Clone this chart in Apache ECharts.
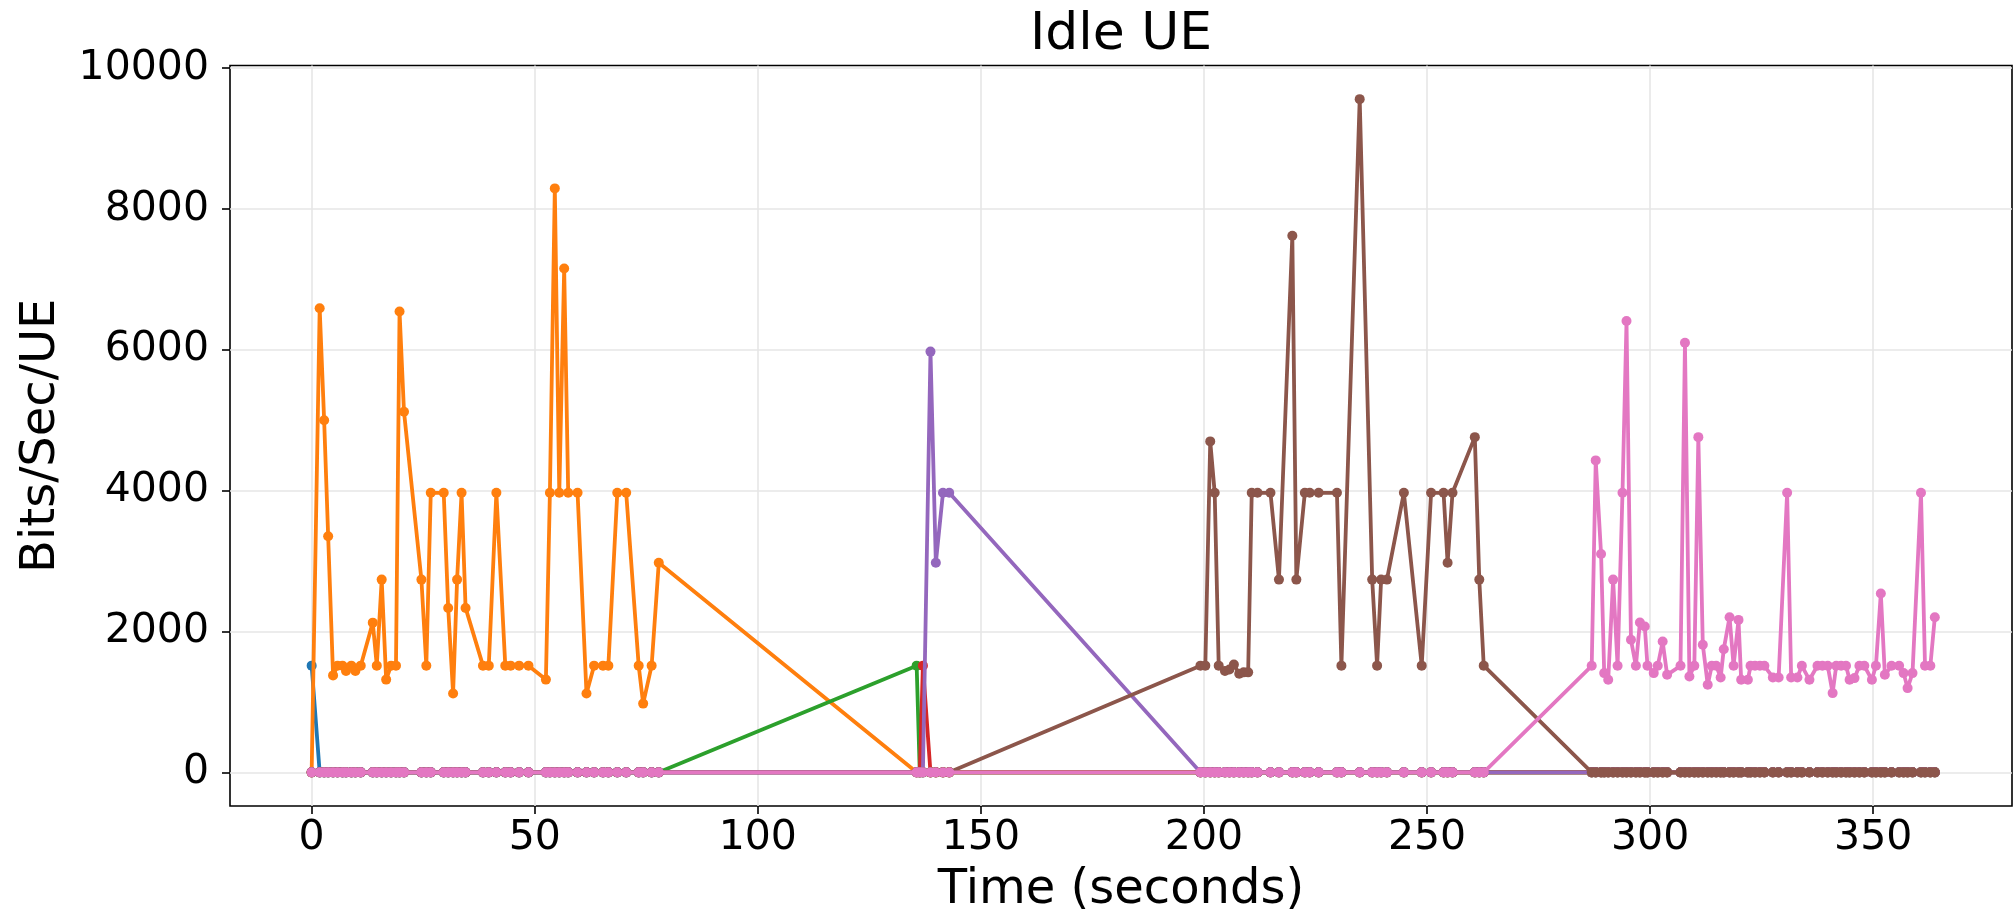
<!DOCTYPE html>
<html>
<head>
<meta charset="utf-8">
<script src="https://cdn.jsdelivr.net/npm/echarts@6/dist/echarts.min.js"></script>
<style>
html,body{margin:0;padding:0;background:#ffffff;}
#c{width:2015px;height:921px;}
</style>
</head>
<body>
<div id="c"></div>
<script>
// ---------------- DATA ----------------
const TITLE = 'Idle UE';
const X_NAME = 'Time (seconds)';
const Y_NAME = 'Bits/Sec/UE';
const X_TICKS = [0, 50, 100, 150, 200, 250, 300, 350];
const Y_TICKS = [0, 2000, 4000, 6000, 8000, 10000];
const SERIES_NAMES = ['UE 1', 'UE 2', 'UE 3', 'UE 4', 'UE 5', 'UE 6', 'UE 7'];

// sample times (seconds), four observation windows
const T1 = [0.0, 1.8, 2.8, 3.7, 4.8, 5.8, 6.9, 7.7, 8.9, 9.8,
            11.0, 13.7, 14.6, 15.7, 16.7, 17.8, 18.9, 19.7, 20.7, 24.6,
            25.7, 26.7, 29.6, 30.6, 31.7, 32.6, 33.6, 34.5, 38.4, 39.7,
            41.4, 43.4, 44.6, 46.5, 48.6, 52.5, 53.4, 54.5, 55.5, 56.6,
            57.5, 59.6, 61.6, 63.3, 65.3, 66.5, 68.5, 70.5, 73.3, 74.3,
            76.2, 77.8];
const T2 = [135.6, 136.3, 137.0, 138.7, 139.9, 141.5, 142.9];
const T3 = [199.2, 200.3, 201.4, 202.4, 203.3, 204.7, 205.7, 206.7, 207.9, 208.9,
            209.9, 210.7, 212.0, 214.9, 216.8, 219.8, 220.7, 222.6, 223.7, 225.7,
            229.8, 230.8, 234.9, 237.7, 238.8, 239.7, 241.0, 244.8, 248.8, 250.9,
            253.7, 254.6, 255.7, 260.7, 261.7, 262.7];
const T4 = [286.9, 287.8, 289.0, 289.7, 290.6, 291.7, 292.7, 293.8, 294.7, 295.7,
            296.8, 297.7, 298.8, 299.4, 300.8, 301.7, 302.8, 303.8, 306.8, 307.8,
            308.8, 309.9, 310.8, 311.8, 312.9, 313.8, 314.8, 315.8, 316.5, 317.8,
            318.7, 319.8, 320.4, 321.9, 322.5, 323.5, 324.6, 325.6, 327.5, 328.8,
            330.7, 331.6, 333.0, 334.0, 335.7, 337.5, 338.6, 339.8, 340.9, 341.7,
            342.8, 343.9, 344.7, 345.8, 346.9, 348.0, 349.7, 350.6, 351.7, 352.6,
            354.1, 355.8, 356.8, 357.7, 358.8, 360.7, 361.6, 362.8, 363.8];

// idle (zero) values for each window
const ZERO1 = [0,0,0,0,0,0,0,0,0,0, 0,0,0,0,0,0,0,0,0,0, 0,0,0,0,0,0,0,0,0,0,
               0,0,0,0,0,0,0,0,0,0, 0,0,0,0,0,0,0,0,0,0, 0,0];
const ZERO2 = [0,0,0,0,0,0,0];
const ZERO3 = [0,0,0,0,0,0,0,0,0,0, 0,0,0,0,0,0,0,0,0,0, 0,0,0,0,0,0,0,0,0,0,
               0,0,0,0,0,0];
const ZERO4 = [0,0,0,0,0,0,0,0,0,0, 0,0,0,0,0,0,0,0,0,0, 0,0,0,0,0,0,0,0,0,0,
               0,0,0,0,0,0,0,0,0,0, 0,0,0,0,0,0,0,0,0,0, 0,0,0,0,0,0,0,0,0,0,
               0,0,0,0,0,0,0,0,0];

// active values
const BLUE1 = [1515, 0,0,0,0,0,0,0,0,0, 0,0,0,0,0,0,0,0,0,0, 0,0,0,0,0,0,0,0,0,0,
               0,0,0,0,0,0,0,0,0,0, 0,0,0,0,0,0,0,0,0,0, 0,0];
const ORANGE1 = [0, 6590, 5000, 3353, 1377, 1515, 1515, 1440, 1515, 1440,
                 1515, 2126, 1515, 2737, 1317, 1515, 1515, 6545, 5120, 2737,
                 1515, 3970, 3970, 2335, 1120, 2737, 3970, 2335, 1515, 1515,
                 3970, 1515, 1515, 1515, 1515, 1317, 3970, 8293, 3970, 7156,
                 3970, 3970, 1120, 1515, 1515, 1515, 3970, 3970, 1515, 976,
                 1515, 2976];
const GREEN2 = [1515, 0, 0, 0, 0, 0, 0];
const RED2 = [0, 0, 1515, 0, 0, 0, 0];
const PURPLE2 = [0, 0, 0, 5975, 2976, 3970, 3970];
const BROWN3 = [1515, 1515, 4700, 3970, 1515, 1440, 1460, 1530, 1400, 1420,
                1420, 3970, 3970, 3970, 2737, 7620, 2737, 3970, 3970, 3970,
                3970, 1515, 9560, 2737, 1515, 2737, 2737, 3970, 1515, 3970,
                3970, 2976, 3970, 4760, 2737, 1515];
const PINK4 = [1513, 4430, 3100, 1409, 1314, 2737, 1513, 3970, 6410, 1882,
               1513, 2128, 2071, 1513, 1409, 1513, 1858, 1385, 1513, 6100,
               1362, 1513, 4760, 1811, 1243, 1513, 1513, 1348, 1749, 2203,
               1513, 2165, 1314, 1314, 1513, 1513, 1513, 1513, 1348, 1348,
               3970, 1348, 1348, 1513, 1314, 1513, 1513, 1513, 1125, 1513,
               1513, 1513, 1314, 1338, 1513, 1513, 1314, 1513, 2540, 1385,
               1513, 1513, 1409, 1196, 1409, 3970, 1513, 1513, 2203];

const COLORS = ['#1f77b4', '#ff7f0e', '#2ca02c', '#d62728', '#9467bd', '#8c564b', '#e377c2'];

// ---------------- BUILD ----------------
const TIMES = [T1, T2, T3, T4];
const SERIES_SEGMENTS = [
  [BLUE1, ZERO2, ZERO3, ZERO4],
  [ORANGE1, ZERO2, ZERO3, ZERO4],
  [ZERO1, GREEN2, ZERO3, ZERO4],
  [ZERO1, RED2, ZERO3, ZERO4],
  [ZERO1, PURPLE2, ZERO3, ZERO4],
  [ZERO1, ZERO2, BROWN3, ZERO4],
  [ZERO1, ZERO2, ZERO3, PINK4]
];

function build(segs) {
  const out = [];
  segs.forEach(function (vals, k) {
    const ts = TIMES[k];
    if (vals.length !== ts.length) {
      throw new Error('length mismatch in segment ' + k + ': ' + vals.length + ' vs ' + ts.length);
    }
    ts.forEach(function (t, i) { out.push([t, vals[i]]); });
  });
  return out;
}

const FONT = 'DejaVu Sans';
const series = SERIES_SEGMENTS.map(function (segs, i) {
  return {
    name: SERIES_NAMES[i],
    type: 'line',
    data: build(segs),
    symbol: 'circle',
    symbolSize: 10,
    showSymbol: true,
    showAllSymbol: true,
    lineStyle: { width: 3.8, color: COLORS[i] },
    itemStyle: { color: COLORS[i] },
    emphasis: { disabled: true },
    z: 2 + i
  };
});

const chart = echarts.init(document.getElementById('c'), null, { renderer: 'canvas' });
chart.setOption({
  animation: false,
  backgroundColor: '#ffffff',
  title: {
    text: TITLE,
    left: 1121,
    top: 9,
    padding: 0,
    textAlign: 'center',
    textStyle: { fontFamily: FONT, fontSize: 52, fontWeight: 'normal', color: '#000' }
  },
  grid: {
    left: 230, right: 3, top: 65.5, bottom: 115,
    show: true, borderColor: '#000', borderWidth: 1.6, backgroundColor: 'transparent',
    containLabel: false
  },
  xAxis: {
    type: 'value',
    min: -18.3, max: 381.1,
    name: X_NAME,
    nameLocation: 'middle',
    nameGap: 61,
    nameTextStyle: { fontFamily: FONT, fontSize: 48, color: '#000' },
    axisLine: { show: false, onZero: false },
    axisTick: { show: true, length: 8, customValues: X_TICKS, lineStyle: { color: '#000', width: 1.6 } },
    axisLabel: { customValues: X_TICKS, margin: 12, fontFamily: FONT, fontSize: 41, color: '#000',
                 formatter: function (v) { return String(v); } },
    splitLine: { show: true, lineStyle: { color: '#e6e6e6', width: 1.6 } }
  },
  yAxis: {
    type: 'value',
    min: -478, max: 10038,
    name: Y_NAME,
    nameLocation: 'middle',
    nameGap: 164,
    nameTextStyle: { fontFamily: FONT, fontSize: 48, color: '#000' },
    axisLine: { show: false, onZero: false },
    axisTick: { show: true, length: 8, customValues: Y_TICKS, lineStyle: { color: '#000', width: 1.6 } },
    axisLabel: { customValues: Y_TICKS, margin: 21, fontFamily: FONT, fontSize: 41, color: '#000',
                 formatter: function (v) { return String(v); } },
    splitLine: { show: true, lineStyle: { color: '#e6e6e6', width: 1.6 } }
  },
  series: series
});
</script>
</body>
</html>
